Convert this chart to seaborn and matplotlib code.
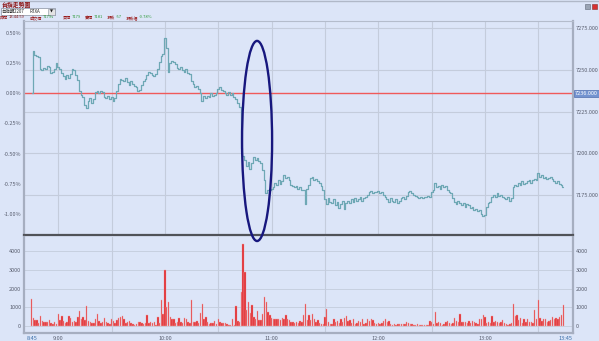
import numpy as np
import matplotlib
matplotlib.use("Agg")
import matplotlib.pyplot as plt
from matplotlib.patches import Ellipse, Rectangle
from matplotlib.ticker import FixedLocator
from matplotlib.transforms import blended_transform_factory
import seaborn as sns

# ---------------- data ----------------
ref_price = 7236.0
# percent change vs reference, one value per minute from 8:45
price_pct = [
    0.00, 0.35, 0.32, 0.31, 0.30, 0.20, 0.19, 0.21, 0.20, 0.23, 0.22, 0.17, 0.18, 0.20, 0.25,
    0.22, 0.20, 0.17, 0.14, 0.12, 0.15, 0.13, 0.16, 0.20, 0.19, 0.15, 0.11, 0.02, -0.01, -0.03,
    -0.10, -0.12, -0.06, -0.04, -0.08, -0.05, 0.01, 0.02, 0.00, 0.02, 0.01, -0.03, -0.04, -0.02, -0.05,
    -0.03, -0.06, -0.04, 0.02, 0.08, 0.12, 0.11, 0.10, 0.13, 0.09, 0.07, 0.10, 0.08, 0.06, 0.05,
    0.02, 0.03, 0.07, 0.10, 0.12, 0.15, 0.18, 0.17, 0.15, 0.14, 0.16, 0.20, 0.26, 0.31, 0.33,
    0.46, 0.38, 0.18, 0.25, 0.27, 0.26, 0.24, 0.21, 0.20, 0.22, 0.19, 0.18, 0.20, 0.17, 0.16,
    0.10, 0.08, 0.05, 0.06, 0.04, 0.00, -0.06, -0.02, -0.04, -0.02, -0.03, 0.00, -0.02, -0.01, 0.00,
    0.04, 0.05, 0.03, 0.02, 0.00, -0.01, 0.01, -0.01, 0.00, -0.03, -0.05, -0.08, -0.11, -0.45, -0.52,
    -0.55, -0.60, -0.57, -0.63, -0.58, -0.53, -0.55, -0.54, -0.56, -0.58, -0.64, -0.72, -0.83, -0.80, -0.80,
    -0.79, -0.78, -0.74, -0.76, -0.72, -0.75, -0.73, -0.68, -0.70, -0.69, -0.72, -0.76, -0.77, -0.78, -0.77,
    -0.79, -0.78, -0.80, -0.80, -0.92, -0.79, -0.76, -0.70, -0.69, -0.72, -0.71, -0.73, -0.74, -0.77, -0.80,
    -0.88, -0.92, -0.87, -0.90, -0.91, -0.88, -0.93, -0.90, -0.95, -0.92, -0.89, -0.96, -0.91, -0.89, -0.91,
    -0.88, -0.90, -0.87, -0.89, -0.88, -0.86, -0.89, -0.87, -0.86, -0.84, -0.82, -0.81, -0.83, -0.82, -0.82,
    -0.81, -0.83, -0.82, -0.84, -0.86, -0.88, -0.90, -0.87, -0.89, -0.90, -0.88, -0.91, -0.89, -0.87, -0.86,
    -0.88, -0.85, -0.82, -0.81, -0.83, -0.84, -0.85, -0.86, -0.87, -0.86, -0.87, -0.86, -0.86, -0.85, -0.86,
    -0.82, -0.80, -0.74, -0.78, -0.77, -0.79, -0.76, -0.78, -0.77, -0.80, -0.82, -0.83, -0.87, -0.90, -0.92,
    -0.89, -0.91, -0.93, -0.91, -0.94, -0.92, -0.93, -0.95, -0.94, -0.97, -0.96, -0.98, -0.97, -1.00, -1.02,
    -1.01, -0.94, -0.91, -0.90, -0.86, -0.84, -0.86, -0.83, -0.85, -0.84, -0.86, -0.87, -0.88, -0.86, -0.89,
    -0.87, -0.78, -0.76, -0.77, -0.74, -0.76, -0.73, -0.75, -0.74, -0.73, -0.72, -0.74, -0.72, -0.71, -0.72,
    -0.66, -0.69, -0.68, -0.70, -0.69, -0.71, -0.70, -0.69, -0.71, -0.73, -0.74, -0.73, -0.75, -0.76, -0.78,
]
# volume per minute from 8:45
volume = [
    1450, 450, 300, 300, 150, 530, 250, 200, 220, 200, 300, 150, 100, 200, 100,
    650, 300, 550, 250, 150, 200, 520, 430, 200, 250, 200, 500, 800, 350, 500,
    300, 1050, 250, 200, 180, 150, 350, 620, 250, 150, 200, 430, 200, 150, 120,
    350, 250, 150, 300, 450, 500, 520, 350, 150, 200, 250, 150, 100, 80, 100,
    200, 200, 150, 120, 150, 600, 150, 200, 150, 200, 80, 500, 150, 1400, 650,
    3000, 1000, 1300, 500, 400, 350, 150, 200, 420, 200, 150, 420, 350, 200, 150,
    1400, 200, 200, 250, 150, 680, 1200, 350, 500, 200, 100, 150, 150, 250, 100,
    400, 200, 150, 150, 150, 100, 50, 50, 400, 50, 1050, 250, 200, 1800, 4400,
    2900, 850, 1300, 700, 1100, 500, 400, 800, 300, 300, 650, 1550, 1300, 750, 600,
    450, 400, 350, 350, 350, 300, 450, 350, 600, 400, 300, 200, 200, 150, 200,
    150, 250, 200, 600, 1200, 300, 600, 300, 650, 400, 200, 300, 150, 100, 100,
    500, 900, 200, 100, 100, 400, 200, 250, 150, 350, 200, 450, 550, 250, 300,
    150, 350, 100, 150, 250, 200, 350, 100, 150, 400, 250, 350, 300, 150, 100,
    150, 100, 150, 250, 400, 200, 250, 100, 50, 100, 80, 100,
    100, 100, 100, 100, 200, 150, 100, 100, 80, 50, 130, 50, 50, 50, 80,
    80, 50, 250, 200, 100, 750, 150, 200, 150, 80, 100, 200, 250, 150, 100,
    150, 450, 250, 200, 650, 200, 200, 200, 150, 250, 150, 250, 200, 150, 100,
    350, 400, 600, 500, 150, 200, 150, 550, 200, 250, 200, 150, 200, 300, 150,
    100, 80, 100, 150, 1200, 550, 600, 300, 450, 150, 350, 200, 350, 200, 200,
    150, 850, 400, 1400, 450, 250, 350, 400, 200, 250, 300, 500, 350, 450, 400, 500, 600, 1100,
]
x_tick_minutes = [0, 15, 75, 135, 195, 255, 300]
x_tick_labels = ["8:45", "9:00", "10:00", "11:00", "12:00", "13:00", "13:45"]
pct_ticks = [0.50, 0.25, 0.00, -0.25, -0.50, -0.75, -1.00]
pct_labels = ["0.50%", "0.25%", "0.00%", "-0.25%", "-0.50%", "-0.75%", "-1.00%"]
price_ticks = [7175, 7200, 7225, 7250, 7275]
vol_ticks = [0, 1000, 2000, 3000, 4000]
grid_minutes = list(range(15, 300, 30))

header_title = "台指走勢圖"
header_combo = ["台指期2207", "RTXA"]
header_items = [("時間", "13:44:59"), ("成交價", "7179s"), ("買價", "7179"),
                ("賣價", "7181"), ("漲跌", "-57"), ("漲跌幅", "-0.78%")]

# annotation ellipse (minute, pct, width in minutes, height in pct)
ell_center = (126.8, -0.395)
ell_size = (16.9, 1.66)

minutes = np.arange(len(price_pct))

# ---------------- style ----------------
sns.set_style("white")
plt.rcParams['font.family'] = ['Noto Sans CJK TC', 'DejaVu Sans']

BG = '#dce5f8'
GRID = '#c4ccdc'
TXT = '#5a5f70'
W, H = 599, 341
fig = plt.figure(figsize=(W / 100, H / 100), dpi=100, facecolor=BG)


def fr(l, t, r, b):
    return [l / W, 1 - b / H, (r - l) / W, (b - t) / H]


ax = fig.add_axes(fr(24, 21, 573, 235))
axv = fig.add_axes(fr(24, 237, 573, 333))
XLIM = (-4.3, 304.5)

# ---------------- price panel ----------------
ax.set_facecolor(BG)
ax.axhline(0, color='#f05a5a', lw=1.0, zorder=1.5)
sns.lineplot(x=minutes, y=price_pct, ax=ax, color='#6ea8b5', lw=0.9,
             drawstyle='steps-mid', estimator=None, zorder=3)
ax.set_xlim(*XLIM)
PYLIM = (-1.175, 0.60)
ax.set_ylim(*PYLIM)
ax.set_xlabel("")
ax.set_ylabel("")
ax.set_yticks(pct_ticks)
ax.set_yticklabels(pct_labels, fontsize=4, color=TXT)
ax.yaxis.set_minor_locator(FixedLocator([(p / ref_price - 1) * 100 for p in price_ticks]))
ax.set_xticks(grid_minutes)
ax.set_xticklabels([])
ax.tick_params(axis='both', which='both', length=0, pad=2)
ax.xaxis.grid(True, which='major', color=GRID, lw=0.8)
ax.yaxis.grid(False, which='major')
ax.yaxis.grid(True, which='minor', color=GRID, lw=0.8)
ax.set_axisbelow(True)
for s in ['left', 'right']:
    ax.spines[s].set_color('#a6aec0')
    ax.spines[s].set_linewidth(1.6)
ax.spines['top'].set_color('#b4bccc')
ax.spines['top'].set_linewidth(0.8)
ax.spines['bottom'].set_color('#505258')
ax.spines['bottom'].set_linewidth(1.6)

ax2 = ax.twinx()
ax2.set_ylim(ref_price * (1 + PYLIM[0] / 100), ref_price * (1 + PYLIM[1] / 100))
ax2.set_yticks(price_ticks)
ax2.set_yticklabels([f"{p:.3f}" for p in price_ticks], fontsize=4, color=TXT)
ax2.tick_params(length=0, pad=2)
for s in ax2.spines.values():
    s.set_visible(False)
tr = blended_transform_factory(ax2.transAxes, ax2.transData)
ax2.text(1.004, ref_price, f"{ref_price:.3f}", transform=tr, ha='left', va='center',
         fontsize=4, color='white',
         bbox=dict(boxstyle='square,pad=0.2', fc='#7393d0', ec='#3a5aa0', lw=0.4))

# ---------------- volume panel ----------------
axv.set_facecolor(BG)
sns.barplot(x=minutes, y=volume, native_scale=True, ax=axv, color='#e0262b',
            saturation=1, edgecolor='#f2a5a5', linewidth=0.3, width=0.8,
            errorbar=None, zorder=3)
axv.set_xlim(*XLIM)
axv.set_ylim(-373, 4747)
axv.set_xlabel("")
axv.set_ylabel("")
axv.set_yticks(vol_ticks)
axv.set_yticklabels([str(v) for v in vol_ticks], fontsize=4, color=TXT)
axv.set_xticks(x_tick_minutes)
axv.set_xticklabels(x_tick_labels, fontsize=4, color=TXT)
for lbl, m in zip(axv.get_xticklabels(), x_tick_minutes):
    if m in (0, 300):
        lbl.set_color('#3a6ea8')
axv.xaxis.set_minor_locator(FixedLocator(grid_minutes))
axv.tick_params(axis='both', which='both', length=0, pad=2)
axv.tick_params(axis='y', labelright=True)
axv.xaxis.grid(False, which='major')
axv.xaxis.grid(True, which='minor', color=GRID, lw=0.8)
axv.yaxis.grid(True, which='major', color=GRID, lw=0.6)
axv.set_axisbelow(True)
for s in ['left', 'right', 'bottom']:
    axv.spines[s].set_color('#a6aec0')
    axv.spines[s].set_linewidth(1.6)
axv.spines['top'].set_visible(False)

# ---------------- annotation ellipse ----------------
fig.add_artist(Ellipse(ell_center, ell_size[0], ell_size[1], transform=ax.transData,
                       fill=False, ec='#17177e', lw=1.7, zorder=20, clip_on=False))

# ---------------- header ----------------
fig.add_artist(plt.Line2D([0, 1], [1 - 1 / H, 1 - 1 / H], transform=fig.transFigure,
                          color='#b0b8c8', lw=1.0))
fig.text(1 / W, 1 - 5 / H, header_title, fontsize=4.2, color='#8a1010',
         fontweight='bold', va='center', ha='left')
fig.add_artist(Rectangle((1 / W, 1 - 15 / H), 54 / W, 7 / H, transform=fig.transFigure,
                         fc='white', ec='#8890a0', lw=0.5))
fig.add_artist(Rectangle((48 / W, 1 - 14.5 / H), 6.5 / W, 6 / H, transform=fig.transFigure,
                         fc='#e4e4e4', ec='#8890a0', lw=0.4))
fig.text(2 / W, 1 - 11.5 / H, header_combo[0], fontsize=3.2, color='#202020', va='center')
fig.text(29 / W, 1 - 11.5 / H, header_combo[1], fontsize=3.2, color='#202020', va='center')
fig.text(51.2 / W, 1 - 11.5 / H, "▼", fontsize=2.8, color='#202020', va='center', ha='center',
         family='DejaVu Sans')

renderer = fig.canvas.get_renderer()
xpos = [0, 30, 63, 85, 107, 126]
for (lab, val), xp in zip(header_items, xpos):
    t = fig.text(xp / W, 1 - 17.5 / H, lab, fontsize=3.0, color='#9a1a1a', va='center')
    ext = t.get_window_extent(renderer=renderer)
    col = '#8a1a1a' if lab == "時間" else '#2e9a3a'
    fig.text((ext.x1 + 0.5) / W, 1 - 17.5 / H, val, fontsize=3.0, color=col, va='center')

fig.add_artist(Rectangle((585 / W, 1 - 9 / H), 5 / W, 5 / H, transform=fig.transFigure,
                         fc='#9aa4b4', ec='#606878', lw=0.4))
fig.add_artist(Rectangle((592 / W, 1 - 9 / H), 5 / W, 5 / H, transform=fig.transFigure,
                         fc='#d83030', ec='#803030', lw=0.4))

fig.savefig("out.png", dpi=100, facecolor=BG)
